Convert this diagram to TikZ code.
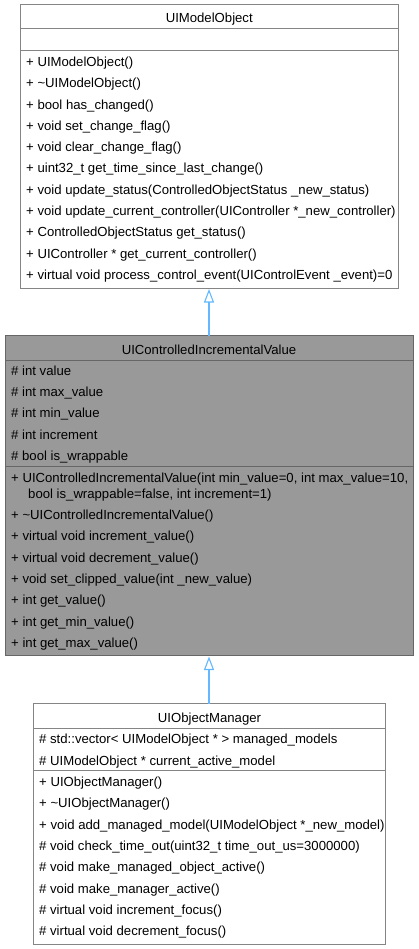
\documentclass[tikz,border=0pt]{standalone}
\usepackage{fontspec}
\setmainfont{Liberation Sans}
\usetikzlibrary{arrows.meta}
\definecolor{edgeblue}{HTML}{63B8FF}
\definecolor{boxline}{HTML}{858585}
\definecolor{curline}{HTML}{666666}
\definecolor{curfill}{HTML}{999999}
\begin{document}
\begin{tikzpicture}[x=1pt,y=-1pt,
  txt/.style={anchor=base west,inner sep=0pt,font=\fontsize{13.15}{15}\selectfont},
  ttl/.style={anchor=base,inner sep=0pt,font=\fontsize{13.15}{15}\selectfont},
  classbox/.style={draw=boxline,line width=1pt,fill=white,inner sep=0pt},
  curbox/.style={draw=curline,line width=1pt,fill=curfill,inner sep=0pt},
  sepline/.style={boxline,line width=1pt},
  cursep/.style={curline,line width=1pt},
  inherit/.style={color=edgeblue,line width=1.1pt,-{Triangle[open,length=13.5pt,width=10pt,line width=1.1pt]}}]
\useasboundingbox (0,0) rectangle (419,949);
% ---------- UIModelObject
\node[classbox,minimum width=377.5pt,minimum height=283pt] (A) at (209.25,146.5) {};
\draw[sepline] (20.5,29) -- (398,29);
\draw[sepline] (20.5,51) -- (398,51);
\node[ttl] (At) at (209.25,22.7) {UIModelObject};
\node[txt] (A1) at (26,66.5) {+ UIModelObject()};
\node[txt] (A2) at (26,87.8) {+ \textasciitilde UIModelObject()};
\node[txt] (A3) at (26,109.1) {+ bool has\_changed()};
\node[txt] (A4) at (26,130.4) {+ void set\_change\_flag()};
\node[txt] (A5) at (26,151.7) {+ void clear\_change\_flag()};
\node[txt] (A6) at (26,173) {+ uint32\_t get\_time\_since\_last\_change()};
\node[txt] (A7) at (26,194.3) {+ void update\_status(ControlledObjectStatus \_new\_status)};
\node[txt] (A8) at (26,215.6) {+ void update\_current\_controller(UIController *\_new\_controller)};
\node[txt] (A9) at (26,236.9) {+ ControlledObjectStatus get\_status()};
\node[txt] (A10) at (26,258.2) {+ UIController * get\_current\_controller()};
\node[txt] (A11) at (26,279.5) {+ virtual void process\_control\_event(UIControlEvent \_event)=0};
% ---------- UIControlledIncrementalValue
\node[curbox,minimum width=408pt,minimum height=319.5pt] (B) at (209,495.25) {};
\draw[cursep] (5,360) -- (413,360);
\draw[cursep] (5,466) -- (413,466);
\node[ttl] (Bt) at (209,354) {UIControlledIncrementalValue};
\node[txt] (B1) at (11,375) {\# int value};
\node[txt] (B2) at (11,396.4) {\# int max\_value};
\node[txt] (B3) at (11,417.7) {\# int min\_value};
\node[txt] (B4) at (11,439) {\# int increment};
\node[txt] (B5) at (11,460.4) {\# bool is\_wrappable};
\node[txt] (B6) at (11,482) {+ UIControlledIncrementalValue(int min\_value=0, int max\_value=10,};
\node[txt] (B6b) at (28,498) {bool is\_wrappable=false, int increment=1)};
\node[txt] (B7) at (11,519.4) {+ \textasciitilde UIControlledIncrementalValue()};
\node[txt] (B8) at (11,540.7) {+ virtual void increment\_value()};
\node[txt] (B9) at (11,562) {+ virtual void decrement\_value()};
\node[txt] (B10) at (11,583.4) {+ void set\_clipped\_value(int \_new\_value)};
\node[txt] (B11) at (11,604.7) {+ int get\_value()};
\node[txt] (B12) at (11,626) {+ int get\_min\_value()};
\node[txt] (B13) at (11,647.3) {+ int get\_max\_value()};
% ---------- UIObjectManager
\node[classbox,minimum width=352.4pt,minimum height=240.5pt] (C) at (209.5,823.75) {};
\draw[sepline] (33.3,728.7) -- (385.7,728.7);
\draw[sepline] (33.3,770.7) -- (385.7,770.7);
\node[ttl] (Ct) at (209.5,722.4) {UIObjectManager};
\node[txt] (C1) at (39,743.7) {\# std::vector< UIModelObject * > managed\_models};
\node[txt] (C2) at (39,765) {\# UIModelObject * current\_active\_model};
\node[txt] (C3) at (39,786.4) {+ UIObjectManager()};
\node[txt] (C4) at (39,807.7) {+ \textasciitilde UIObjectManager()};
\node[txt] (C5) at (39,829) {+ void add\_managed\_model(UIModelObject *\_new\_model)};
\node[txt] (C6) at (39,850.4) {\# void check\_time\_out(uint32\_t time\_out\_us=3000000)};
\node[txt] (C7) at (39,871.7) {\# void make\_managed\_object\_active()};
\node[txt] (C8) at (39,893) {\# void make\_manager\_active()};
\node[txt] (C9) at (39,914.3) {\# virtual void increment\_focus()};
\node[txt] (C10) at (39,935.6) {\# virtual void decrement\_focus()};
% ---------- inheritance
\coordinate (Btop) at (209,335.5);
\coordinate (Abot) at (209,289);
\coordinate (Ctop) at (209,703.5);
\coordinate (Bbot) at (209,656.5);
\draw[inherit] (Btop) -- (Abot);
\draw[inherit] (Ctop) -- (Bbot);
\end{tikzpicture}
\end{document}
